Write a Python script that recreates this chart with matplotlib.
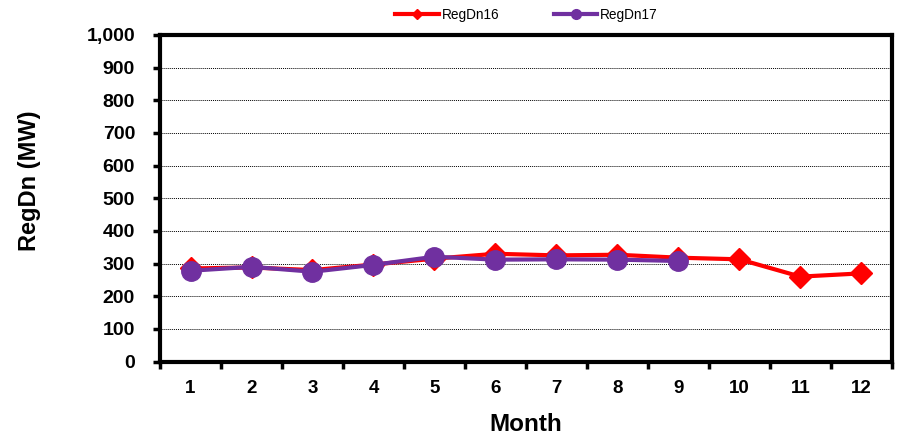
import matplotlib
matplotlib.use("Agg")
import matplotlib.pyplot as plt
from matplotlib.ticker import FuncFormatter, FixedLocator

plt.rcParams['font.family'] = ['Liberation Sans', 'DejaVu Sans']

months = [1, 2, 3, 4, 5, 6, 7, 8, 9, 10, 11, 12]
month_labels = [str(m) for m in months]
regdn16 = [285, 288, 280, 297, 315, 330, 325, 327, 318, 313, 260, 270]
months17 = [1, 2, 3, 4, 5, 6, 7, 8, 9]
regdn17 = [278, 290, 275, 296, 321, 312, 313, 312, 308]

fig = plt.figure(figsize=(9, 4.42), dpi=100)
ax = fig.add_axes([0.1778, 0.182, 0.8132, 0.739])

l16, = ax.plot(months, regdn16, color='#FF0000', lw=3, marker='D', markersize=11,
               label='RegDn16', zorder=3)
l17, = ax.plot(months17, regdn17, color='#7030A0', lw=3, marker='o', markersize=14,
               label='RegDn17', zorder=4)

ax.set_xlim(0.5, 12.5)
ax.set_ylim(0, 1000)
ax.set_yticks(range(0, 1001, 100))
ax.yaxis.set_major_formatter(FuncFormatter(lambda v, p: f"{int(v):,}"))
ax.grid(axis='y', color='black', linestyle=(0, (1, 1)), linewidth=0.7)
ax.set_axisbelow(True)

ax.xaxis.set_major_locator(FixedLocator([m + 0.5 for m in [0] + months]))
ax.xaxis.set_major_formatter(FuncFormatter(lambda v, p: ''))
ax.xaxis.set_minor_locator(FixedLocator(months))
ax.set_xticklabels(month_labels, minor=True)
ax.tick_params(axis='x', which='minor', length=0, pad=13, labelsize=13.5)
ax.tick_params(axis='x', which='major', length=5, width=2.5, direction='out')
ax.tick_params(axis='y', length=5, width=2.5, direction='out', labelsize=14, pad=13)
for lab in ax.get_xticklabels(minor=True) + ax.get_yticklabels():
    lab.set_fontweight('bold')

for sp in ax.spines.values():
    sp.set_linewidth(3)
    sp.set_color('black')

ax.set_xlabel('Month', fontsize=17.5, fontweight='bold', labelpad=12)
ax.set_ylabel('RegDn (MW)', fontsize=17, fontweight='bold', va='center')
ax.yaxis.set_label_coords(-0.178, 0.555)

leg = fig.legend(handles=[l16, l17], loc='center', bbox_to_anchor=(0.585, 0.966), ncol=2,
                 frameon=False, fontsize=9.8, markerscale=0.5, handlelength=3.2,
                 columnspacing=4, handletextpad=0.2)

fig.savefig('out.png', dpi=100)
